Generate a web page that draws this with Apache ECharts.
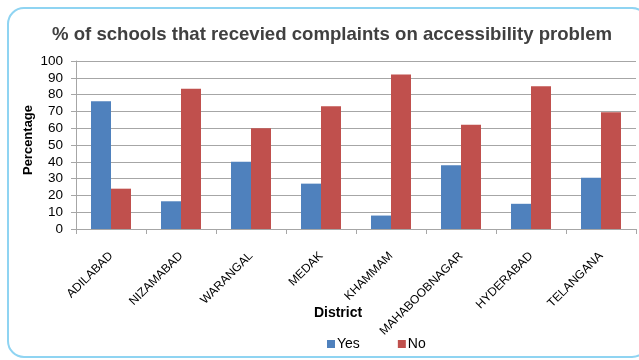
<!DOCTYPE html>
<html>
<head>
<meta charset="utf-8">
<script src="https://cdn.jsdelivr.net/npm/echarts@6/dist/echarts.min.js"></script>
<style>
  html, body { margin: 0; padding: 0; background: #ffffff; }
  #chart { width: 639px; height: 360px; }
</style>
</head>
<body>
<div id="chart"></div>
<script>
// District-wise share of schools reporting accessibility complaints
const districts = ['ADILABAD', 'NIZAMABAD', 'WARANGAL', 'MEDAK', 'KHAMMAM', 'MAHABOOBNAGAR', 'HYDERABAD', 'TELANGANA'];
const yesValues = [76, 16.5, 40, 27, 8, 38, 15, 30.5];
const noValues = [24, 83.5, 60, 73, 92, 62, 85, 69.5];
const seriesNames = ['Yes', 'No'];
const yAxisTitle = 'Percentage';

const FONT = 'Liberation Sans, Arial, sans-serif';

const chart = echarts.init(document.getElementById('chart'), null, { renderer: 'canvas' });

chart.setOption({
  animation: false,
  backgroundColor: '#ffffff',
  textStyle: { fontFamily: FONT },
  graphic: [
    {
      type: 'rect',
      shape: { x: 8, y: 8, width: 640, height: 349, r: 16 },
      style: { fill: 'none', stroke: '#8fd4f2', lineWidth: 2 },
      silent: true
    },
    {
      // vertical value-axis title, placed close to the tick labels
      type: 'text',
      x: 28,
      y: 140,
      rotation: Math.PI / 2,
      style: {
        text: yAxisTitle,
        fontFamily: FONT,
        fontSize: 13,
        fontWeight: 'bold',
        fill: '#000000',
        align: 'center',
        verticalAlign: 'middle'
      },
      silent: true
    }
  ],
  title: {
    text: '% of schools that recevied complaints on accessibility problem',
    left: 327,
    top: 20,
    textAlign: 'center',
    textStyle: { fontFamily: FONT, fontSize: 18.6, fontWeight: 'bold', color: '#404040' }
  },
  legend: {
    data: seriesNames,
    left: 322,
    top: 332,
    itemWidth: 8,
    itemHeight: 8,
    itemGap: 38,
    icon: 'rect',
    textStyle: { fontFamily: FONT, fontSize: 14, color: '#000000', padding: [0, 0, 0, -3] }
  },
  grid: { left: 76, right: 3, top: 61, bottom: 131, containLabel: false },
  xAxis: {
    type: 'category',
    data: districts,
    name: 'District',
    nameLocation: 'middle',
    nameGap: 77,
    nameMoveOverlap: false,
    nameTextStyle: { fontFamily: FONT, fontSize: 14, fontWeight: 'bold', color: '#000000', padding: [0, 36, 0, 0] },
    axisLine: { lineStyle: { color: '#a6a6a6', width: 1 } },
    axisTick: { show: true, length: 5, alignWithLabel: false, lineStyle: { color: '#a6a6a6' } },
    axisLabel: { rotate: 45, margin: 25, fontFamily: FONT, fontSize: 12, color: '#000000', interval: 0 }
  },
  yAxis: {
    type: 'value',
    min: 0,
    max: 100,
    interval: 10,
    axisLine: { show: true, lineStyle: { color: '#a6a6a6', width: 1 } },
    axisTick: { show: true, length: 5, lineStyle: { color: '#a6a6a6' } },
    axisLabel: { margin: 13, fontFamily: FONT, fontSize: 13.5, color: '#000000' },
    splitLine: { show: true, lineStyle: { color: '#a6a6a6', width: 1 } }
  },
  series: [
    {
      name: seriesNames[0],
      type: 'bar',
      data: yesValues,
      barWidth: 20,
      barGap: '0%',
      itemStyle: { color: '#4f81bd' }
    },
    {
      name: seriesNames[1],
      type: 'bar',
      data: noValues,
      barWidth: 20,
      barGap: '0%',
      itemStyle: { color: '#c0504d' }
    }
  ]
});
</script>
</body>
</html>
